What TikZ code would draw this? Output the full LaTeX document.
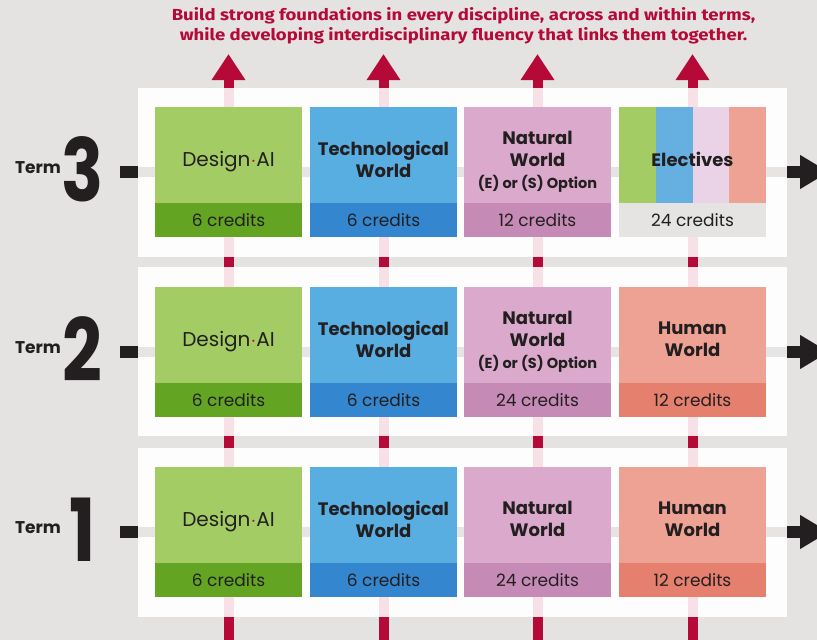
\documentclass[tikz,border=0pt]{standalone}
\usepackage{fontspec}
\setmainfont{Poppins}
\newfontfamily\titlefont[FakeStretch=1.16]{Fira Sans}
\usetikzlibrary{arrows.meta}
\definecolor{bgc}{HTML}{E4E3E1}
\definecolor{panelc}{HTML}{FDFDFD}
\definecolor{crim}{HTML}{B50938}
\definecolor{pinkline}{HTML}{F7E1E7}
\definecolor{grayline}{HTML}{E6E5E3}
\definecolor{ink}{HTML}{231F20}
\definecolor{gA}{HTML}{A3CD64}\definecolor{gB}{HTML}{63A523}
\definecolor{bA}{HTML}{58ADE1}\definecolor{bB}{HTML}{3487CF}
\definecolor{pA}{HTML}{DAA9CB}\definecolor{pB}{HTML}{C68AB7}
\definecolor{sA}{HTML}{EEA293}\definecolor{sB}{HTML}{E57F6E}
\definecolor{eB}{HTML}{65B0E1}\definecolor{eC}{HTML}{EBD3E7}\definecolor{eK}{HTML}{E5E4E2}
\begin{document}
\begin{tikzpicture}[x=1pt,y=-1pt,
  panel/.style={fill=panelc,inner sep=0,outer sep=0,minimum width=649pt,minimum height=168.5pt,anchor=north west},
  boxtop/.style={inner sep=0,outer sep=0,minimum width=147pt,minimum height=96pt,anchor=north west},
  boxcred/.style={inner sep=0,outer sep=0,minimum width=147pt,minimum height=34pt,anchor=north west,text=ink,font=\fontsize{17}{17}\selectfont},
  lbl/.style={text=ink,align=center,font=\bfseries\fontsize{18}{22}\selectfont,inner sep=0},
  dlbl/.style={text=ink,font=\fontsize{20}{22}\selectfont,inner sep=0},
  vline/.style={line width=10pt,crim},
  vpink/.style={line width=10pt,pinkline},
  hline/.style={line width=10pt,grayline},
  termw/.style={text=ink,font=\bfseries\fontsize{17}{17}\selectfont,inner sep=0,anchor=base east},
  termn/.style={text=ink,font=\bfseries\fontsize{87}{87}\selectfont,inner sep=0,anchor=base},
]
\useasboundingbox (0,0) rectangle (817,640);
\fill[bgc] (0,0) rectangle (817,640);

% title
\node[text=crim,align=center,font=\titlefont\bfseries\fontsize{16}{20}\selectfont,inner sep=0] (title) at (463.5,25.5)
 {Build strong foundations in every discipline, across and within terms,\\while developing interdisciplinary fluency that links them together.};

% panels
\node[panel] (p3) at (138,88) {};
\node[panel] (p2) at (138,267) {};
\node[panel] (p1) at (138,448) {};

% vertical lines
\foreach \i/\cx in {1/228.5,2/383.5,3/537.5,4/692.5}{
  \coordinate (vb\i) at (\cx,641);
  \coordinate (vt\i) at (\cx,54);
  \draw[vline,-{Triangle[width=32pt,length=26pt]}] (vb\i) -- (vt\i);
  \foreach \p in {1,2,3}{
    \draw[vpink] (p\p.north -| vb\i) -- (p\p.south -| vb\i);
  }
}

% horizontal lines
\foreach \r/\yc in {1/532,2/352,3/172}{
  \coordinate (hl\r) at (120,\yc);
  \coordinate (hr\r) at (829,\yc);
  \draw[line width=12pt,ink] (hl\r) -- (hl\r -| p\r.west);
  \draw[hline] (hl\r -| p\r.west) -- (hl\r -| p\r.east);
  \draw[line width=12pt,ink,-{Triangle[width=32pt,length=29pt]}] (hl\r -| p\r.east) -- (hr\r);
  \node[termn] (n\r) at (82.5,\yc+29) {\scalebox{0.8}[1]{\r}};
  \node[termw] (w\r) at (61,\yc+1) {Term};
}

% boxes
\foreach \r/\top in {1/467,2/287,3/107}{
  \node[boxtop,fill=gA] (t\r a) at (155,\top) {};
  \node[boxcred,fill=gB,anchor=north] (k\r a) at (t\r a.south) {6 credits};
  \node[boxtop,fill=bA] (t\r b) at (310,\top) {};
  \node[boxcred,fill=bB,anchor=north] (k\r b) at (t\r b.south) {6 credits};
  \node[boxtop,fill=pA] (t\r c) at (464,\top) {};
  \node[dlbl] at ([yshift=-7pt]t\r a.center) {Design{\color{crim}$\cdot$}AI};
  \node[lbl] at ([yshift=-4pt]t\r b.center) {Technological\\World};
}
\node[boxcred,fill=pB,anchor=north] (k1c) at (t1c.south) {24 credits};
\node[boxcred,fill=pB,anchor=north] (k2c) at (t2c.south) {24 credits};
\node[boxcred,fill=pB,anchor=north] (k3c) at (t3c.south) {12 credits};
\node[lbl] at ([yshift=-4pt]t1c.center) {Natural\\World};
\node[lbl] at ([yshift=-6.5pt]t2c.center) {Natural\\World\\{\fontsize{14.5}{22}\selectfont (E) or (S) Option}};
\node[lbl] at ([yshift=-6.5pt]t3c.center) {Natural\\World\\{\fontsize{14.5}{22}\selectfont (E) or (S) Option}};

\foreach \r/\top in {1/467,2/287}{
  \node[boxtop,fill=sA] (t\r d) at (619,\top) {};
  \node[boxcred,fill=sB,anchor=north] (k\r d) at (t\r d.south) {12 credits};
  \node[lbl] at ([yshift=-4pt]t\r d.center) {Human\\World};
}
% electives
\node[boxtop] (t3d) at (619,107) {};
\fill[gA] (t3d.north west) rectangle (656,203);
\fill[eB] (656,107) rectangle (693,203);
\fill[eC] (693,107) rectangle (729,203);
\fill[sA] (729,107) rectangle (t3d.south east);
\node[boxcred,fill=eK,anchor=north] (k3d) at (t3d.south) {24 credits};
\node[lbl] at ([yshift=-4pt]t3d.center) {Electives};
\end{tikzpicture}
\end{document}
